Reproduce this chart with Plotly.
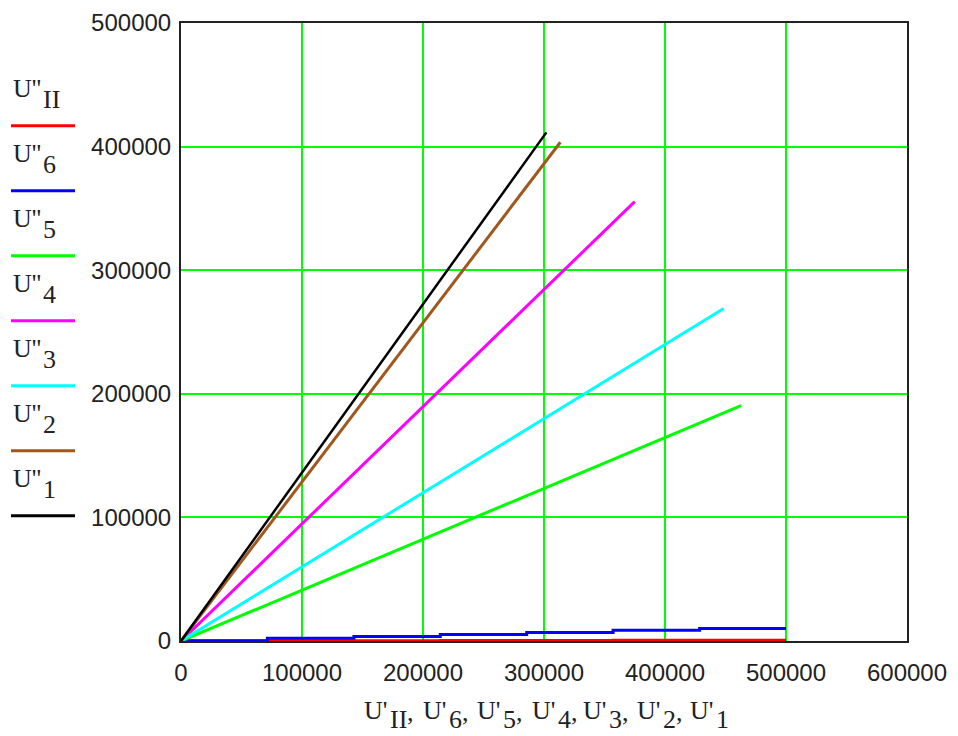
import plotly.graph_objects as go

# ---- data ----
series_names = ["II", "6", "5", "4", "3", "2", "1"]
series_colors = ["#ff0000", "#0000ff", "#00ff00", "#ff00ff", "#00ffff", "#a0581e", "#000000"]

# U''II (red) and U''6 (blue): stepped, nearly flat
red_x = [0, 71400, 142900, 214300, 285700, 357100, 428600, 500000]
red_y = [0, 200, 300, 400, 500, 600, 700, 700]
blue_x = [0, 71400, 142900, 214300, 285700, 357100, 428600, 500000]
blue_y = [300, 2300, 3700, 5300, 6800, 8700, 10200, 10200]

# straight traces from the origin: end points
line5_x = [0, 462800]
line5_y = [0, 190500]
line4_x = [0, 375000]
line4_y = [0, 355500]
line3_x = [0, 448500]
line3_y = [0, 269000]
line2_x = [0, 313500]
line2_y = [0, 403500]
line1_x = [0, 302000]
line1_y = [0, 411500]

x_ticks = [0, 100000, 200000, 300000, 400000, 500000, 600000]
y_ticks = [0, 100000, 200000, 300000, 400000, 500000]

# ---- figure ----
W, H = 958, 736
L, R, T, B = 173, 59, 15, 103      # page body has an 8px margin
PW, PH = W - L - R, H - T - B
OX, OY = 8 + L, 8 + T              # plot origin on screen (top-left)


def px(xs):
    return (xs - OX) / PW


def py(ys):
    return (OY + PH - ys) / PH


fig = go.Figure()
xs = [red_x, blue_x, line5_x, line4_x, line3_x, line2_x, line1_x]
ys = [red_y, blue_y, line5_y, line4_y, line3_y, line2_y, line1_y]
widths = [3, 3, 3, 3, 3, 3, 2.5]
for i, (xx, yy) in enumerate(zip(xs, ys)):
    fig.add_trace(go.Scatter(
        x=xx, y=yy, mode="lines",
        line=dict(color=series_colors[i], width=widths[i], shape="hv" if i < 2 else "linear"),
        showlegend=False, hoverinfo="skip",
    ))

axis_common = dict(
    showgrid=True, gridcolor="#00ff00", gridwidth=2, automargin=False,
    zeroline=False, showline=True, linecolor="#222222", linewidth=2, mirror=True,
    ticks="", tickfont=dict(family="Liberation Sans", size=24, color="#222222"),
)
fig.update_xaxes(range=[0, 600000], tickvals=x_ticks, ticktext=[str(v) for v in x_ticks],
                 ticklabelstandoff=9, **axis_common)
fig.update_yaxes(range=[0, 500000], tickvals=y_ticks, ticktext=[str(v) for v in y_ticks],
                 ticklabelstandoff=3, **axis_common)

serif = "Liberation Serif"
TXT = "#222222"
annotations = []
shapes = []


def text_at(x, y, s, size=26):
    annotations.append(dict(xref="paper", yref="paper", x=px(x), y=py(y),
                            xanchor="left", yanchor="middle", showarrow=False,
                            text=s, font=dict(family=serif, size=size, color=TXT)))


def sub_width(name):
    return 17 if name == "II" else 13


# custom Mathcad-style legend on the left
line_y0 = 125.7
for i, name in enumerate(series_names):
    ly = line_y0 + 65 * i
    shapes.append(dict(type="line", xref="paper", yref="paper",
                       x0=px(11), x1=px(75), y0=py(ly), y1=py(ly),
                       line=dict(color=series_colors[i], width=3)))
    cy = ly - 37
    text_at(11, cy, "U''")
    text_at(41, cy + 10.5, name)

# x axis title  U'II,U'6,...,U'1
gx = [364, 423, 477, 532, 583, 637, 690]
for k, name in enumerate(series_names):
    text_at(gx[k] - 2, 710, "U'")
    sx = gx[k] + 24
    text_at(sx, 719, name)
    if k < len(series_names) - 1:
        text_at(sx + sub_width(name), 712, ",")

fig.update_layout(
    width=W, height=H,
    margin=dict(l=L, r=R, t=T, b=B),
    paper_bgcolor="white", plot_bgcolor="white",
    shapes=shapes, annotations=annotations,
)

fig.write_html("out.html")
